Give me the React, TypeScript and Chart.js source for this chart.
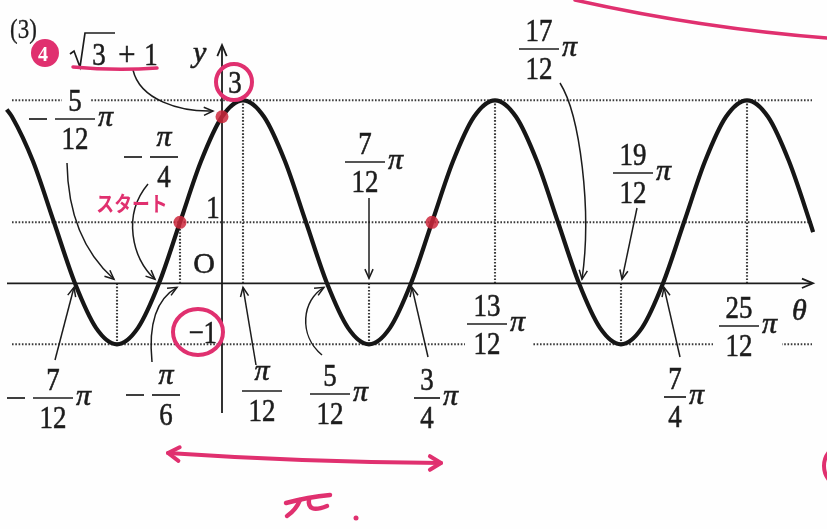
import React, { useEffect, useRef } from 'react';
import { Chart, registerables } from 'chart.js';

Chart.register(...registerables);

// θ positions, in units of π/12
const thetaSteps = [-10.25, -10, -9, -8, -7, -6, -5, -4, -3, -2, -1, 0, 1, 2, 3, 4, 5, 6, 7, 8, 9, 10, 11, 12, 13, 14, 15, 16, 17, 18, 19, 20, 21, 22, 23, 24, 25, 26, 27, 28, 28.15];
// y = 2sin(2θ + π/3) + 1 read at those positions
const yValues = [2.85, 2.73, 2, 1, 0, -0.73, -1, -0.73, 0, 1, 2, 2.73, 3, 2.73, 2, 1, 0, -0.73, -1, -0.73, 0, 1, 2, 2.73, 3, 2.73, 2, 1, 0, -0.73, -1, -0.73, 0, 1, 2, 2.73, 3, 2.73, 2, 1, 0.84];

// highlighted points (θ in π/12 units)
const markedTheta = [-2, 0, 10];
const markedY = [1, 2.73, 1];

// dotted guide levels and guide positions
const levelLines = [3, 1, -1];
const peakTheta = [1, 13, 25];
const troughTheta = [-5, 7, 19];
const riseTheta = [-2];

// fraction tick labels: sign, numerator, denominator, trailing π
const tickTheta = [-5, -3, 7, 17, 19, -7, -2, 1, 5, 9, 13, 21, 25];
const tickSign = [-1, -1, 1, 1, 1, -1, -1, 1, 1, 1, 1, 1, 1];
const tickNum = ['5', 'π', '7', '17', '19', '7', 'π', 'π', '5', '3', '13', '7', '25'];
const tickDen = ['12', '4', '12', '12', '12', '12', '6', '12', '12', '4', '12', '4', '12'];
const tickPi = [true, false, true, true, true, true, false, false, true, true, true, true, true];

const SERIF = '"Liberation Serif", "Times New Roman", serif';
const FONT_NUM = `32px ${SERIF}`;
const FONT_IT = `italic 30px ${SERIF}`;
const INK = '#1c1c1c';
const PINK = '#e0306f';

// label placement (bar centre x, bar y, bar width), same order as the tick arrays
const tickBox = [
  { cx: 75, by: 119, bw: 40 },
  { cx: 164, by: 157, bw: 28 },
  { cx: 365, by: 162, bw: 40 },
  { cx: 539, by: 49, bw: 40 },
  { cx: 633, by: 173, bw: 40 },
  { cx: 53, by: 398, bw: 40 },
  { cx: 166, by: 395, bw: 28 },
  { cx: 262, by: 391, bw: 40 },
  { cx: 330, by: 394, bw: 40 },
  { cx: 427, by: 398, bw: 26 },
  { cx: 487, by: 324, bw: 40 },
  { cx: 675, by: 397, bw: 22 },
  { cx: 739, by: 326, bw: 40 },
];

function text(ctx: CanvasRenderingContext2D, s: string, x: number, y: number, font: string, align: CanvasTextAlign = 'center', sx = 1, weight = 0.6) {
  ctx.save();
  ctx.font = font;
  ctx.translate(x, y);
  ctx.scale(sx, 1);
  ctx.textAlign = align;
  ctx.textBaseline = 'alphabetic';
  ctx.fillText(s, 0, 0);
  if (weight > 0) {
    ctx.strokeStyle = ctx.fillStyle;
    ctx.lineWidth = weight;
    ctx.strokeText(s, 0, 0);
  }
  ctx.restore();
}

function seg(ctx: CanvasRenderingContext2D, x1: number, y1: number, x2: number, y2: number) {
  ctx.beginPath();
  ctx.moveTo(x1, y1);
  ctx.lineTo(x2, y2);
  ctx.stroke();
}

function head(ctx: CanvasRenderingContext2D, tx: number, ty: number, fx: number, fy: number, len = 10, spread = 0.42) {
  const a = Math.atan2(ty - fy, tx - fx);
  ctx.beginPath();
  ctx.moveTo(tx - len * Math.cos(a - spread), ty - len * Math.sin(a - spread));
  ctx.lineTo(tx, ty);
  ctx.lineTo(tx - len * Math.cos(a + spread), ty - len * Math.sin(a + spread));
  ctx.stroke();
}

type Pt = [number, number];
function curvedArrow(ctx: CanvasRenderingContext2D, from: Pt, to: Pt, c1?: Pt, c2?: Pt) {
  ctx.beginPath();
  ctx.moveTo(from[0], from[1]);
  if (c1 && c2) ctx.bezierCurveTo(c1[0], c1[1], c2[0], c2[1], to[0], to[1]);
  else ctx.lineTo(to[0], to[1]);
  ctx.stroke();
  const ref = c2 || from;
  head(ctx, to[0], to[1], ref[0], ref[1]);
}

function fraction(ctx: CanvasRenderingContext2D, i: number) {
  const { cx, by, bw } = tickBox[i];
  const num = tickNum[i];
  if (num === 'π') text(ctx, 'π', cx, by - 11, FONT_IT);
  else text(ctx, num, cx, by - 8, FONT_NUM, 'center', 0.84);
  text(ctx, tickDen[i], cx, by + 30, FONT_NUM, 'center', 0.84);
  ctx.lineWidth = 1.7;
  seg(ctx, cx - bw / 2, by, cx + bw / 2, by);
  if (tickSign[i] < 0) seg(ctx, cx - bw / 2 - 26, by, cx - bw / 2 - 8, by);
  if (tickPi[i]) text(ctx, 'π', cx + bw / 2 + 3, by + 7, FONT_IT, 'left');
}

const annotate = {
  id: 'annotate',
  beforeDraw(chart: any) {
    const { ctx, width, height } = chart;
    ctx.save();
    ctx.fillStyle = '#fefefe';
    ctx.fillRect(0, 0, width, height);
    ctx.restore();
  },
  beforeDatasetsDraw(chart: any) {
    const ctx: CanvasRenderingContext2D = chart.ctx;
    const X = (u: number) => chart.scales.x.getPixelForValue(u);
    const Y = (v: number) => chart.scales.y.getPixelForValue(v);
    const x0 = X(0);
    const y0 = Y(0);
    ctx.save();

    // dotted guides
    ctx.strokeStyle = '#3a3a3a';
    ctx.lineWidth = 2.1;
    ctx.setLineDash([1.6, 1.7]);
    for (const lv of levelLines) seg(ctx, 12, Y(lv), 812, Y(lv));
    for (const u of peakTheta) seg(ctx, X(u), Y(3), X(u), y0);
    for (const u of troughTheta) seg(ctx, X(u), Y(-1), X(u), y0);
    for (const u of riseTheta) seg(ctx, X(u), Y(1), X(u), y0);
    ctx.setLineDash([]);

    // breaks in the guides around labels
    ctx.fillStyle = '#fefefe';
    ctx.fillRect(62, Y(3) - 8, 28, 16);
    ctx.fillRect(465, Y(-1) - 6, 67, 12);
    ctx.fillRect(713, Y(-1) - 6, 69, 12);

    // axes
    ctx.strokeStyle = INK;
    ctx.lineWidth = 1.8;
    seg(ctx, 7, y0, 812, y0);
    head(ctx, 813, y0, 700, y0, 12, 0.4);
    seg(ctx, x0, 413, x0, 46);
    head(ctx, x0, 45, x0, 200, 12, 0.4);

    ctx.fillStyle = INK;
    // axis texts
    text(ctx, 'y', 193, 62, FONT_IT, 'left');
    text(ctx, 'θ', 792, 320, FONT_IT, 'left');
    text(ctx, 'O', 204, 273, `30px ${SERIF}`, 'center');
    text(ctx, '3', 235, 93, FONT_NUM, 'center', 0.84);
    text(ctx, '1', 213, 218, FONT_NUM, 'center', 0.84);
    text(ctx, '−1', 217, 343, FONT_NUM, 'right', 0.84);
    text(ctx, '(3)', 10, 38, `28px ${SERIF}`, 'left', 0.82, 0.3);

    // √3 + 1
    ctx.lineWidth = 1.7;
    ctx.beginPath();
    ctx.moveTo(70, 54);
    ctx.lineTo(74, 51);
    ctx.lineTo(80, 67);
    ctx.lineTo(85, 33);
    ctx.lineTo(115, 33);
    ctx.stroke();
    text(ctx, '3', 99, 65, FONT_NUM, 'center', 0.84);
    text(ctx, '+', 127, 65, `34px ${SERIF}`, 'center', 0.9);
    text(ctx, '1', 151, 65, FONT_NUM, 'center', 0.84);

    // fraction labels
    for (let i = 0; i < tickTheta.length; i++) fraction(ctx, i);

    // pointer arrows
    ctx.lineWidth = 1.5;
    const up = y0 + 4;
    const dn = y0 - 4;
    curvedArrow(ctx, [67, 163], [X(-5) - 3, dn], [68, 222], [90, 258]);
    curvedArrow(ctx, [148, 184], [X(-3) - 4, dn], [122, 215], [132, 258]);
    curvedArrow(ctx, [133, 70], [213, 111], [140, 100], [180, 112]);
    curvedArrow(ctx, [X(7), 198], [X(7), dn - 1]);
    curvedArrow(ctx, [560, 83], [X(17) + 3, dn], [580, 115], [592, 210]);
    curvedArrow(ctx, [637, 208], [X(19) + 1, dn]);
    curvedArrow(ctx, [55, 360], [X(-7) - 1, up]);
    curvedArrow(ctx, [152, 362], [X(-2) - 3, up], [148, 322], [158, 298]);
    curvedArrow(ctx, [256, 365], [X(1), up]);
    curvedArrow(ctx, [322, 355], [X(5) - 3, up], [298, 335], [302, 300]);
    curvedArrow(ctx, [428, 357], [X(9) + 1, up]);
    curvedArrow(ctx, [680, 357], [X(21) + 1, up]);

    ctx.restore();
  },
  afterDatasetsDraw(chart: any) {
    const ctx: CanvasRenderingContext2D = chart.ctx;
    ctx.save();
    ctx.strokeStyle = PINK;
    ctx.fillStyle = PINK;
    ctx.lineCap = 'round';
    ctx.lineJoin = 'round';

    // circled item number
    ctx.beginPath();
    ctx.arc(45, 53, 14, 0, Math.PI * 2);
    ctx.fill();
    ctx.fillStyle = '#fff';
    text(ctx, '4', 43, 61, `bold 20px ${SERIF}`, 'center', 1, 0);
    ctx.fillStyle = PINK;

    // underline of √3 + 1
    ctx.lineWidth = 3.5;
    ctx.beginPath();
    ctx.moveTo(73, 67);
    ctx.quadraticCurveTo(115, 71, 157, 68);
    ctx.stroke();

    // circles round 3 and −1
    ctx.lineWidth = 4;
    ctx.beginPath();
    ctx.arc(234, 82, 18, 0, Math.PI * 2);
    ctx.stroke();
    ctx.beginPath();
    ctx.ellipse(198, 332, 25, 23, 0, 0, Math.PI * 2);
    ctx.stroke();

    // start note
    ctx.save();
    ctx.font = `bold 21px "Noto Sans CJK JP", sans-serif`;
    ctx.textAlign = 'center';
    ctx.textBaseline = 'middle';
    ctx.translate(132, 203);
    ctx.scale(0.85, 1);
    ctx.fillText('スタート', 0, 0);
    ctx.restore();

    // period span
    ctx.lineWidth = 4;
    ctx.beginPath();
    ctx.moveTo(168, 453);
    ctx.quadraticCurveTo(300, 462, 441, 463);
    ctx.stroke();
    head(ctx, 168, 453, 200, 456, 13, 0.55);
    head(ctx, 441, 463, 410, 463, 13, 0.55);

    // handwritten π
    ctx.lineWidth = 4.5;
    ctx.beginPath();
    ctx.moveTo(286, 503);
    ctx.quadraticCurveTo(308, 497, 330, 495);
    ctx.stroke();
    ctx.beginPath();
    ctx.moveTo(287, 516);
    ctx.quadraticCurveTo(296, 510, 300, 500);
    ctx.stroke();
    ctx.beginPath();
    ctx.moveTo(309, 499);
    ctx.quadraticCurveTo(307, 514, 327, 506);
    ctx.stroke();
    ctx.beginPath();
    ctx.arc(356, 518, 2.5, 0, Math.PI * 2);
    ctx.fill();

    // margin strokes
    ctx.lineWidth = 3.5;
    ctx.beginPath();
    ctx.moveTo(575, 0);
    ctx.quadraticCurveTo(700, 28, 827, 38);
    ctx.stroke();
    ctx.lineWidth = 4;
    ctx.beginPath();
    ctx.arc(846, 466, 22, 0, Math.PI * 2);
    ctx.stroke();

    ctx.restore();
  },
};

export default function App() {
  const ref = useRef<HTMLCanvasElement>(null);

  useEffect(() => {
    const canvas = ref.current;
    if (!canvas) return;
    const chart = new Chart(canvas, {
      type: 'line',
      data: {
        datasets: [
          {
            data: markedTheta.map((x, i) => ({ x, y: markedY[i] })),
            showLine: false,
            pointRadius: 6.5,
            pointBackgroundColor: 'rgba(205, 40, 60, 0.85)',
            pointBorderWidth: 0,
            order: 0,
            clip: false,
          },
          {
            data: thetaSteps.map((x, i) => ({ x, y: yValues[i] })),
            borderColor: '#161616',
            borderWidth: 4.2,
            pointRadius: 0,
            cubicInterpolationMode: 'monotone',
            fill: false,
            order: 1,
            clip: false,
          },
        ],
      },
      options: {
        animation: false,
        responsive: false,
        devicePixelRatio: 1,
        events: [],
        layout: { padding: 0, autoPadding: false },
        scales: {
          x: { type: 'linear', display: false, min: -222 / 21, max: (827 - 222) / 21 },
          y: { type: 'linear', display: false, min: (283.3 - 529) / 61, max: 283.3 / 61 },
        },
        plugins: {
          legend: { display: false },
          tooltip: { enabled: false },
        },
      },
      plugins: [annotate],
    } as any);
    return () => chart.destroy();
  }, []);

  return (
    <div style={{ position: 'absolute', left: 0, top: 0, width: 827, height: 529 }}>
      <canvas ref={ref} width={827} height={529} style={{ display: 'block', width: 827, height: 529 }} />
    </div>
  );
}
